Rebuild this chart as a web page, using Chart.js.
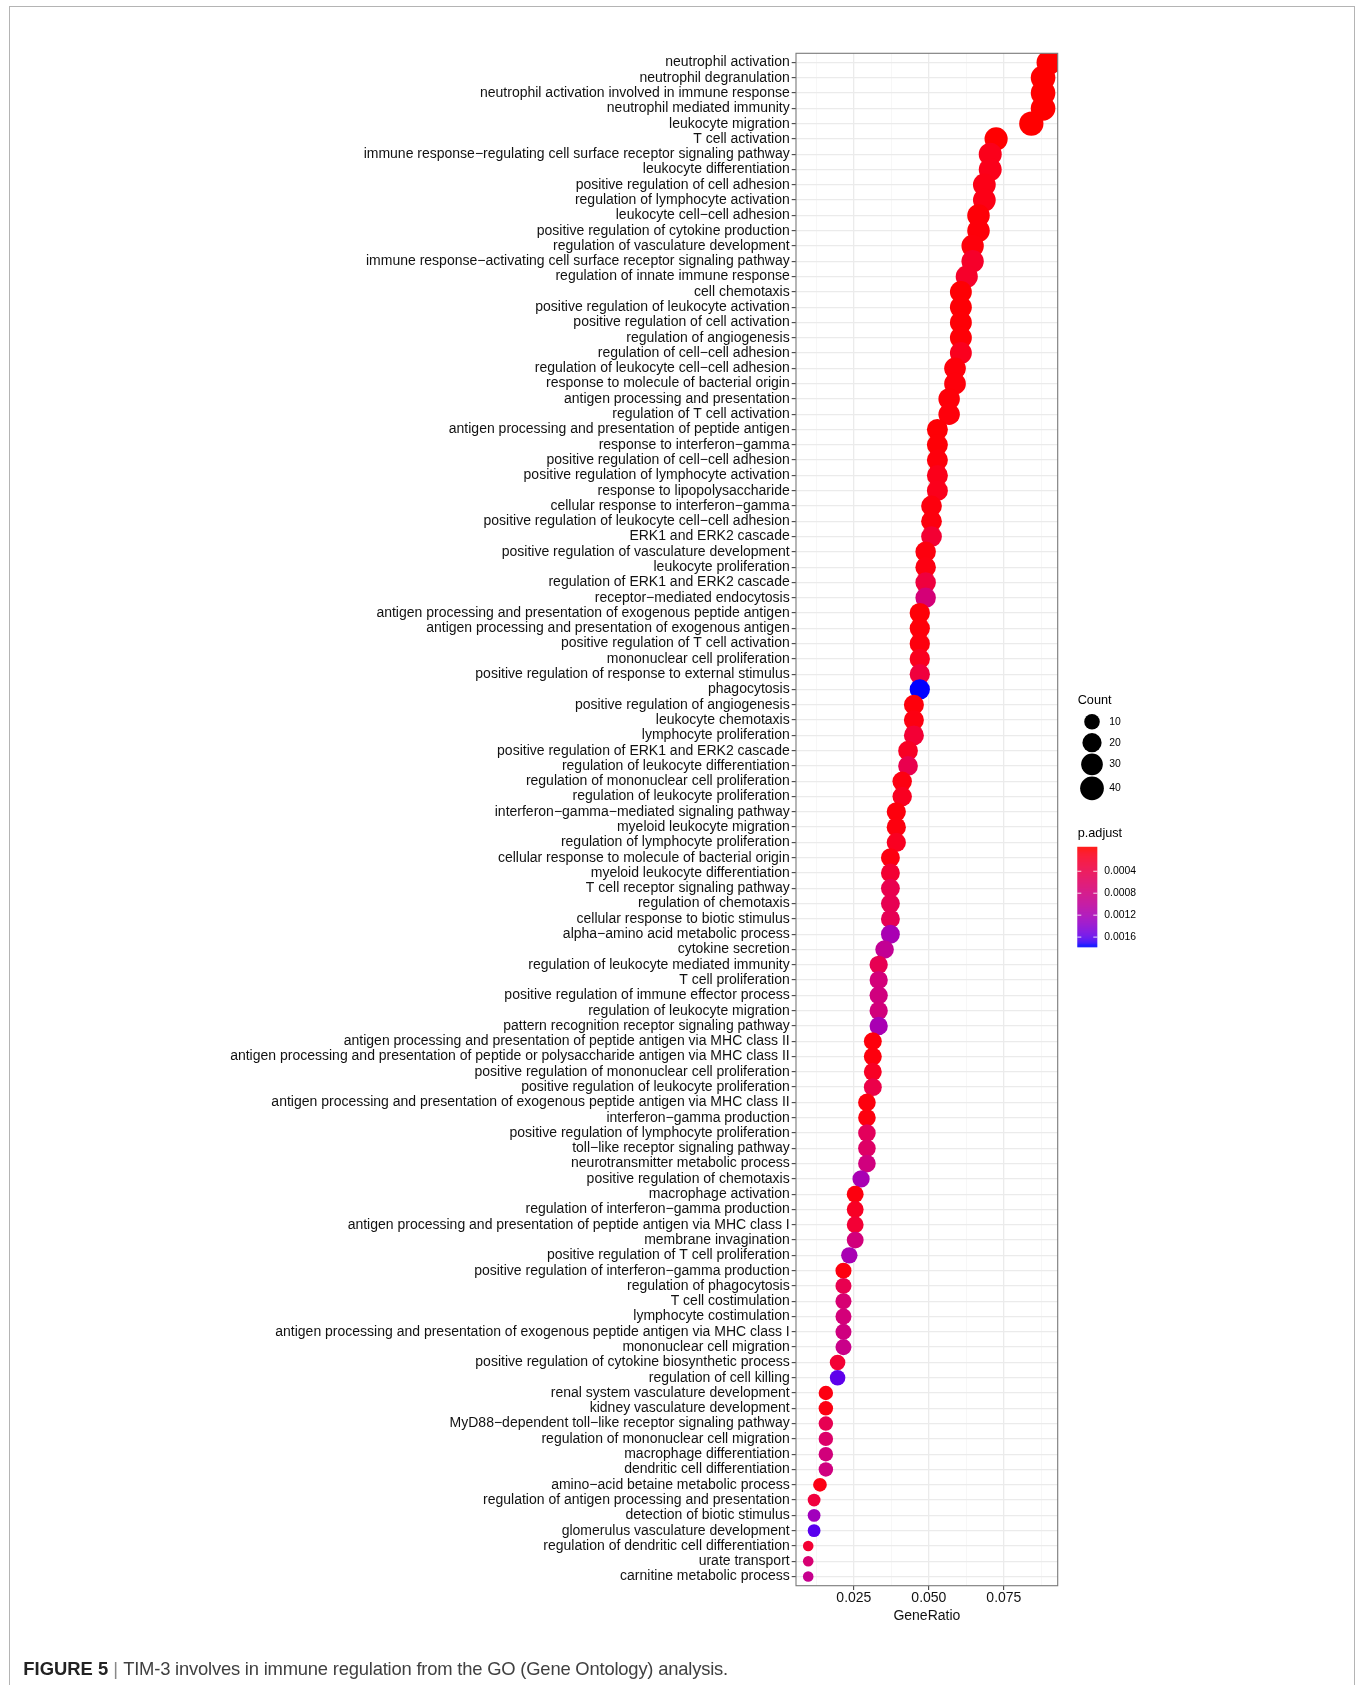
<!DOCTYPE html>
<html><head><meta charset="utf-8">
<script src="https://cdn.jsdelivr.net/npm/chart.js@4.4.1/dist/chart.umd.min.js"></script>
<style>
html,body{margin:0;padding:0;background:#fff;width:1357px;height:1685px;overflow:hidden;}
#wrap{position:relative;width:1357px;height:1685px;}
#frame{position:absolute;left:8.5px;top:5.5px;width:1346px;height:1700px;border:1.5px solid #b4b4b4;border-bottom:none;box-sizing:border-box;}
canvas{position:absolute;left:0;top:0;}
#caption{position:absolute;left:23.3px;top:1660px;font-family:"Liberation Sans",Arial,sans-serif;font-size:18.4px;line-height:18.4px;color:#404040;white-space:nowrap;}
#caption b{color:#222;}
#caption .sep{color:#888;}
#caption .txt{letter-spacing:-0.2px;}
</style></head>
<body><div id="wrap"><div id="frame"></div><canvas id="c" width="1357" height="1685"></canvas><div id="caption"><b>FIGURE 5</b> <span class="sep">|</span> <span class="txt">TIM-3 involves in immune regulation from the GO (Gene Ontology) analysis.</span></div></div>
<script>
const categories = [
"neutrophil activation","neutrophil degranulation","neutrophil activation involved in immune response","neutrophil mediated immunity","leukocyte migration",
"T cell activation","immune response\u2212regulating cell surface receptor signaling pathway","leukocyte differentiation","positive regulation of cell adhesion","regulation of lymphocyte activation",
"leukocyte cell\u2212cell adhesion","positive regulation of cytokine production","regulation of vasculature development","immune response\u2212activating cell surface receptor signaling pathway","regulation of innate immune response",
"cell chemotaxis","positive regulation of leukocyte activation","positive regulation of cell activation","regulation of angiogenesis","regulation of cell\u2212cell adhesion",
"regulation of leukocyte cell\u2212cell adhesion","response to molecule of bacterial origin","antigen processing and presentation","regulation of T cell activation","antigen processing and presentation of peptide antigen",
"response to interferon\u2212gamma","positive regulation of cell\u2212cell adhesion","positive regulation of lymphocyte activation","response to lipopolysaccharide","cellular response to interferon\u2212gamma",
"positive regulation of leukocyte cell\u2212cell adhesion","ERK1 and ERK2 cascade","positive regulation of vasculature development","leukocyte proliferation","regulation of ERK1 and ERK2 cascade",
"receptor\u2212mediated endocytosis","antigen processing and presentation of exogenous peptide antigen","antigen processing and presentation of exogenous antigen","positive regulation of T cell activation","mononuclear cell proliferation",
"positive regulation of response to external stimulus","phagocytosis","positive regulation of angiogenesis","leukocyte chemotaxis","lymphocyte proliferation",
"positive regulation of ERK1 and ERK2 cascade","regulation of leukocyte differentiation","regulation of mononuclear cell proliferation","regulation of leukocyte proliferation","interferon\u2212gamma\u2212mediated signaling pathway",
"myeloid leukocyte migration","regulation of lymphocyte proliferation","cellular response to molecule of bacterial origin","myeloid leukocyte differentiation","T cell receptor signaling pathway",
"regulation of chemotaxis","cellular response to biotic stimulus","alpha\u2212amino acid metabolic process","cytokine secretion","regulation of leukocyte mediated immunity",
"T cell proliferation","positive regulation of immune effector process","regulation of leukocyte migration","pattern recognition receptor signaling pathway","antigen processing and presentation of peptide antigen via MHC class II",
"antigen processing and presentation of peptide or polysaccharide antigen via MHC class II","positive regulation of mononuclear cell proliferation","positive regulation of leukocyte proliferation","antigen processing and presentation of exogenous peptide antigen via MHC class II","interferon\u2212gamma production",
"positive regulation of lymphocyte proliferation","toll\u2212like receptor signaling pathway","neurotransmitter metabolic process","positive regulation of chemotaxis","macrophage activation",
"regulation of interferon\u2212gamma production","antigen processing and presentation of peptide antigen via MHC class I","membrane invagination","positive regulation of T cell proliferation","positive regulation of interferon\u2212gamma production",
"regulation of phagocytosis","T cell costimulation","lymphocyte costimulation","antigen processing and presentation of exogenous peptide antigen via MHC class I","mononuclear cell migration",
"positive regulation of cytokine biosynthetic process","regulation of cell killing","renal system vasculature development","kidney vasculature development","MyD88\u2212dependent toll\u2212like receptor signaling pathway",
"regulation of mononuclear cell migration","macrophage differentiation","dendritic cell differentiation","amino\u2212acid betaine metabolic process","regulation of antigen processing and presentation",
"detection of biotic stimulus","glomerulus vasculature development","regulation of dendritic cell differentiation","urate transport","carnitine metabolic process"
];
const counts = [
46,45,45,45,43, 37,36,36,35,35, 34,34,33,33,32, 31,31,31,31,31,
30,30,29,29,27, 27,27,27,27,26, 26,26,25,25,25, 25,24,24,24,24,
24,24,23,23,23, 22,22,21,21,20, 20,20,19,19,19, 19,19,19,18,17,
17,17,17,17,16, 16,16,16,15,15, 15,15,15,14,13, 13,13,13,12,11,
11,11,11,11,11, 10,10,8,8,8, 8,8,8,7,6, 6,6,5,5,5
];
const geneRatio = [
0.09002,0.08806,0.08806,0.08806,0.08415, 0.07241,0.07045,0.07045,0.06849,0.06849,
0.06654,0.06654,0.06458,0.06458,0.06262, 0.06067,0.06067,0.06067,0.06067,0.06067,
0.05871,0.05871,0.05675,0.05675,0.05284, 0.05284,0.05284,0.05284,0.05284,0.05088,
0.05088,0.05088,0.04892,0.04892,0.04892, 0.04892,0.04697,0.04697,0.04697,0.04697,
0.04697,0.04697,0.04501,0.04501,0.04501, 0.04305,0.04305,0.04110,0.04110,0.03914,
0.03914,0.03914,0.03718,0.03718,0.03718, 0.03718,0.03718,0.03718,0.03523,0.03327,
0.03327,0.03327,0.03327,0.03327,0.03131, 0.03131,0.03131,0.03131,0.02935,0.02935,
0.02935,0.02935,0.02935,0.02740,0.02544, 0.02544,0.02544,0.02544,0.02348,0.02153,
0.02153,0.02153,0.02153,0.02153,0.02153, 0.01957,0.01957,0.01566,0.01566,0.01566,
0.01566,0.01566,0.01566,0.01370,0.01174, 0.01174,0.01174,0.00978,0.00978,0.00978
];
const pAdjust = [
1.0e-9,1.0e-9,1.0e-9,1.0e-9,2.0e-7, 1.5e-6,8.8e-5,8.8e-5,7.0e-5,7.0e-5,
2.0e-5,2.5e-5,3.0e-5,1.75e-4,1.75e-4, 1.2e-5,1.5e-5,1.6e-5,2.0e-5,1.05e-4,
3.0e-5,3.0e-5,2.5e-5,3.0e-5,1.5e-5, 1.8e-5,3.0e-5,8.8e-5,9.0e-5,3.5e-5,
4.0e-5,2.3e-4,4.0e-5,5.0e-5,3.1e-4, 7.4e-4,2.0e-5,2.5e-5,3.5e-5,1.05e-4,
3.0e-4,1.74e-3,3.0e-5,5.0e-5,2.45e-4, 1.4e-4,4.2e-4,5.0e-5,1.2e-4,3.5e-5,
4.0e-5,1.2e-4,4.5e-5,2.3e-4,4.2e-4, 4.5e-4,4.7e-4,1.19e-3,9.6e-4,4.5e-4,
7.5e-4,7.9e-4,7.7e-4,1.19e-3,3.0e-5, 3.5e-5,1.4e-4,3.85e-4,3.5e-5,4.0e-5,
5.2e-4,6.0e-4,7.9e-4,1.19e-3,4.0e-5, 1.4e-4,2.45e-4,7.7e-4,1.19e-3,4.5e-5,
4.4e-4,7.0e-4,7.5e-4,8.0e-4,8.75e-4, 2.45e-4,1.6e-3,5.0e-5,5.5e-5,4.5e-4,
6.3e-4,7.7e-4,8.0e-4,6.0e-5,3.0e-4, 1.26e-3,1.62e-3,2.3e-4,7.0e-4,9.1e-4
];
const xMajorTicks = [0.025, 0.050, 0.075];
const xTickLabels = ["0.025", "0.050", "0.075"];
const xMinorTicks = [0.0125, 0.0375, 0.0625, 0.0875];
const countBreaks = [10, 20, 30, 40];
const countBreakLabels = ["10", "20", "30", "40"];
const pBreaks = [0.0004, 0.0008, 0.0012, 0.0016];
const pBreakLabels = ["0.0004", "0.0008", "0.0012", "0.0016"];

const FONT = '"Liberation Sans", Arial, Helvetica, sans-serif';

// ---- colour scale (red -> blue, interpolated in Lab like ggplot2) ----
function s2l(c){c/=255;return c<=0.04045?c/12.92:Math.pow((c+0.055)/1.055,2.4);}
function l2s(c){c=Math.max(0,Math.min(1,c));const v=c<=0.0031308?12.92*c:1.055*Math.pow(c,1/2.4)-0.055;return Math.round(v*255);}
const Xn=0.95047,Yn=1,Zn=1.08883;
function rgbToLab(rgb){const R=s2l(rgb[0]),G=s2l(rgb[1]),B=s2l(rgb[2]);
  const X=0.4124564*R+0.3575761*G+0.1804375*B,Y=0.2126729*R+0.7151522*G+0.0721750*B,Z=0.0193339*R+0.1191920*G+0.9503041*B;
  const f=t=>t>216/24389?Math.cbrt(t):(24389/27*t+16)/116;
  const fx=f(X/Xn),fy=f(Y/Yn),fz=f(Z/Zn);return [116*fy-16,500*(fx-fy),200*(fy-fz)];}
function labToRgb(lab){const fy=(lab[0]+16)/116,fx=fy+lab[1]/500,fz=fy-lab[2]/200;
  const fi=t=>{const t3=t*t*t;return t3>216/24389?t3:(116*t-16)/(24389/27);};
  const X=Xn*fi(fx),Y=Yn*fi(fy),Z=Zn*fi(fz);
  return [l2s(3.2404542*X-1.5371385*Y-0.4985314*Z),l2s(-0.9692660*X+1.8760108*Y+0.0415560*Z),l2s(0.0556434*X-0.2040259*Y+1.0572252*Z)];}
const LOW=rgbToLab([255,0,0]), HIGH=rgbToLab([0,0,255]);
const pMin=Math.min(...pAdjust), pMax=Math.max(...pAdjust);
function colorFor(p){let t=(p-pMin)/(pMax-pMin);t=Math.max(0,Math.min(1,t));
  const c=labToRgb([LOW[0]+(HIGH[0]-LOW[0])*t,LOW[1]+(HIGH[1]-LOW[1])*t,LOW[2]+(HIGH[2]-LOW[2])*t]);
  return 'rgb('+c[0]+','+c[1]+','+c[2]+')';}

// ---- size scale (area) ----
const cMin=Math.min(...counts), cMax=Math.max(...counts);
const D_MIN=10.6, D_MAX=24.8;
function diamFor(c){return D_MIN+Math.sqrt(Math.max(0,(c-cMin)/(cMax-cMin)))*(D_MAX-D_MIN);}

function isMajor(v){return xMajorTicks.some(m=>Math.abs(m-v)<1e-9);}

const decor = {
  id:'decor',
  afterDatasetsDraw(chart){
    const {ctx, chartArea:a} = chart;
    ctx.save();
    ctx.strokeStyle='#7a7a7a'; ctx.lineWidth=1.1;
    ctx.strokeRect(a.left, a.top, a.right-a.left, a.bottom-a.top);
    ctx.restore();
  },
  afterDraw(chart){
    const ctx = chart.ctx;
    ctx.save();
    ctx.fillStyle='#000'; ctx.textBaseline='middle'; ctx.textAlign='left';
    // Count legend
    ctx.font='12.7px '+FONT;
    ctx.fillText('Count', 1077.7, 700);
    const keyY=[721.7, 742.7, 764.3, 788.3];
    ctx.font='10.4px '+FONT;
    countBreaks.forEach((c,i)=>{
      ctx.beginPath(); ctx.arc(1092, keyY[i], diamFor(c)/2, 0, Math.PI*2); ctx.fillStyle='#000'; ctx.fill();
      ctx.fillText(countBreakLabels[i], 1109.3, keyY[i]);
    });
    // p.adjust colourbar
    ctx.font='12.7px '+FONT;
    ctx.fillText('p.adjust', 1077.7, 833.3);
    const bx=1077.3, bw=20, bt=846.8, bl=100.5, nbin=20;
    for(let k=0;k<Math.ceil(bl);k++){
      const yc=k+0.5;
      let v=pMin+((yc/bl*nbin-0.5)/(nbin-1))*(pMax-pMin);
      ctx.fillStyle=colorFor(v);
      ctx.fillRect(bx, bt+k, bw, Math.min(1.05, bl-k));
    }
    ctx.font='10.4px '+FONT;
    pBreaks.forEach((v,i)=>{
      const y=bt+(0.5+(nbin-1)*(v-pMin)/(pMax-pMin))/nbin*bl;
      ctx.strokeStyle='rgba(255,255,255,0.85)'; ctx.lineWidth=1;
      ctx.beginPath(); ctx.moveTo(bx,y); ctx.lineTo(bx+4,y); ctx.moveTo(bx+bw-4,y); ctx.lineTo(bx+bw,y); ctx.stroke();
      ctx.fillStyle='#000';
      ctx.fillText(pBreakLabels[i], 1104.3, y);
    });
    ctx.restore();
  }
};

new Chart(document.getElementById('c').getContext('2d'), {
  type:'scatter',
  data:{datasets:[{
    data: categories.map((c,i)=>({x:geneRatio[i], y:i})),
    pointRadius: ctx=>diamFor(counts[ctx.dataIndex])/2,
    pointHoverRadius: ctx=>diamFor(counts[ctx.dataIndex])/2,
    backgroundColor: ctx=>colorFor(pAdjust[ctx.dataIndex]),
    pointBackgroundColor: ctx=>colorFor(pAdjust[ctx.dataIndex]),
    borderWidth:0, pointBorderWidth:0,
    clip:0
  }]},
  options:{
    responsive:false, animation:false, devicePixelRatio:1, events:[],
    layout:{padding:{left:0, right:299.3, top:53.3, bottom:49.3}},
    plugins:{legend:{display:false}, tooltip:{enabled:false}},
    scales:{
      x:{
        type:'linear', min:0.00571, max:0.09294,
        afterBuildTicks: s=>{ s.ticks=[...xMinorTicks, ...xMajorTicks].sort((a,b)=>a-b).map(v=>({value:v})); },
        afterFit: s=>{ s.height=50; },
        ticks:{ callback:(v)=>{const i=xMajorTicks.findIndex(m=>Math.abs(m-v)<1e-9);return i>=0?xTickLabels[i]:'';},
          font:{family:FONT, size:14, lineHeight:1}, color:'#111', padding:1.5, maxRotation:0, autoSkip:false },
        grid:{ color: c=>isMajor(c.tick.value)?'#EBEBEB':'#F4F4F4', lineWidth: c=>isMajor(c.tick.value)?1.3:0.7,
          tickColor: c=>isMajor(c.tick.value)?'#333':'rgba(0,0,0,0)', tickLength:4.3, tickWidth:1 },
        border:{display:false},
        title:{display:true, text:'GeneRatio', font:{family:FONT, size:14}, color:'#111', padding:{top:0, bottom:11.5}}
      },
      y:{
        type:'linear', reverse:true, min:-0.6, max:99.6,
        afterBuildTicks: s=>{ s.ticks=categories.map((_,i)=>({value:i})); },
        afterFit: s=>{ s.width=796; },
        ticks:{ callback:(v)=>categories[v], autoSkip:false, font:{family:FONT, size:14}, color:'#111', padding:2 },
        grid:{ color:'#EBEBEB', lineWidth:1.3, tickColor:'#333', tickLength:4.3, tickWidth:1 },
        border:{display:false}
      }
    }
  },
  plugins:[decor]
});
</script>
</body></html>
